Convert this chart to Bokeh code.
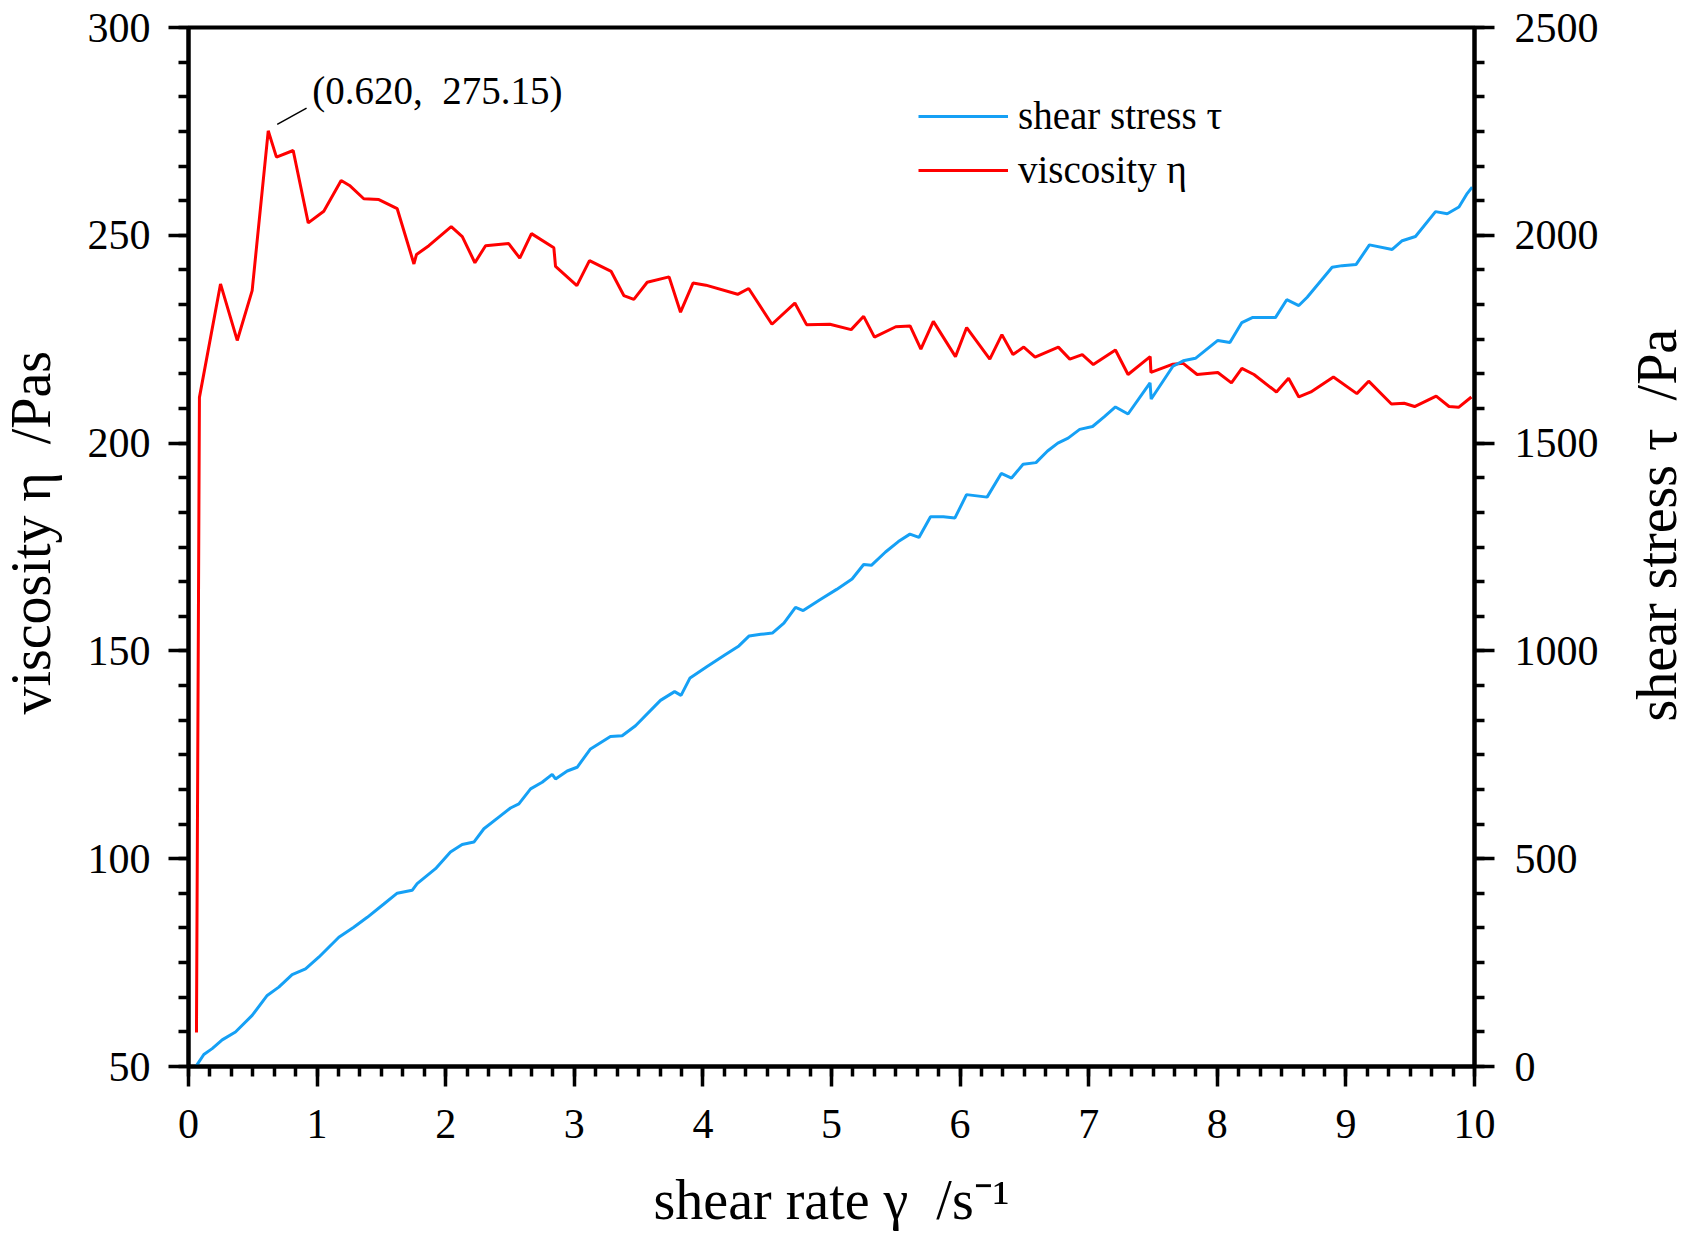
import math
import numpy as np
from bokeh.plotting import figure
from bokeh.layouts import row
from bokeh.core.properties import value
from bokeh.models import Range1d, LinearAxis, SingleIntervalTicker, Label, Legend, LegendItem
from bokeh.embed import file_html
from bokeh.resources import INLINE

# ---------------- data ----------------
rate_visc = [0.062, 0.085, 0.249, 0.379, 0.495, 0.620, 0.684, 0.814, 0.931, 1.052,
             1.187, 1.252, 1.363, 1.480, 1.623, 1.753, 1.773, 1.869, 2.043, 2.129,
             2.227, 2.310, 2.490, 2.576, 2.667, 2.841, 2.854, 3.020, 3.118, 3.287,
             3.385, 3.463, 3.567, 3.737, 3.826, 3.923, 4.023, 4.270, 4.356, 4.537,
             4.715, 4.806, 4.987, 5.153, 5.250, 5.334, 5.500, 5.611, 5.695, 5.792,
             5.964, 6.051, 6.231, 6.325, 6.411, 6.495, 6.583, 6.764, 6.853, 6.950,
             7.036, 7.208, 7.306, 7.478, 7.484, 7.655, 7.735, 7.843, 8.004, 8.110,
             8.191, 8.285, 8.460, 8.554, 8.634, 8.728, 8.903, 9.085, 9.177, 9.354,
             9.453, 9.534, 9.702, 9.802, 9.876, 9.976]
viscosity = [58.2, 211.0, 238.3, 224.7, 236.7, 275.15, 268.8, 270.4, 253.0, 255.8,
             263.2, 262.0, 258.8, 258.6, 256.4, 243.1, 245.4, 247.5, 252.1, 249.7,
             243.4, 247.5, 248.0, 244.5, 250.4, 247.0, 242.5, 237.9, 243.9, 241.3,
             235.5, 234.6, 238.7, 240.0, 231.5, 238.5, 238.0, 235.8, 237.2, 228.6,
             233.7, 228.5, 228.6, 227.3, 230.5, 225.5, 228.0, 228.2, 222.6, 229.3,
             220.8, 227.8, 220.2, 226.1, 221.3, 223.1, 220.7, 223.1, 220.2, 221.3,
             218.9, 222.4, 216.5, 220.8, 217.0, 219.0, 219.2, 216.5, 217.0, 214.5,
             218.0, 216.5, 212.3, 215.6, 211.1, 212.3, 215.9, 211.9, 214.9, 209.4,
             209.6, 208.8, 211.3, 208.8, 208.6, 211.1]

rate_tau = [0.062, 0.119, 0.184, 0.262, 0.365, 0.495, 0.612, 0.702, 0.806, 0.910,
            1.013, 1.169, 1.285, 1.390, 1.519, 1.623, 1.739, 1.778, 1.921, 2.037,
            2.128, 2.219, 2.297, 2.413, 2.504, 2.569, 2.660, 2.750, 2.828, 2.854,
            2.945, 3.022, 3.126, 3.281, 3.372, 3.476, 3.670, 3.780, 3.830, 3.900,
            4.030, 4.170, 4.280, 4.360, 4.450, 4.540, 4.630, 4.720, 4.780, 4.910,
            5.040, 5.160, 5.250, 5.310, 5.420, 5.520, 5.610, 5.680, 5.770, 5.870,
            5.960, 6.050, 6.210, 6.320, 6.400, 6.490, 6.590, 6.680, 6.760, 6.840,
            6.930, 7.030, 7.120, 7.208, 7.306, 7.477, 7.486, 7.655, 7.735, 7.830,
            8.004, 8.098, 8.191, 8.272, 8.452, 8.540, 8.634, 8.699, 8.893, 8.971,
            9.080, 9.183, 9.360, 9.438, 9.541, 9.697, 9.788, 9.879, 9.944, 9.982]
shear_stress = [2, 29, 43, 64, 83, 123, 171, 191, 221, 235,
                263, 311, 335, 359, 391, 417, 424, 440, 476, 516,
                534, 540, 572, 600, 622, 632, 668, 684, 703, 692,
                711, 720, 764, 794, 796, 820, 881, 902, 893, 935,
                962, 990, 1012, 1036, 1040, 1043, 1067, 1105, 1097, 1123,
                1148, 1173, 1208, 1206, 1238, 1263, 1281, 1273, 1323, 1323,
                1320, 1376, 1370, 1427, 1416, 1449, 1453, 1481, 1500, 1512,
                1533, 1540, 1563, 1587, 1570, 1645, 1606, 1685, 1698, 1704,
                1747, 1742, 1790, 1802, 1802, 1845, 1831, 1851, 1923, 1927,
                1930, 1977, 1966, 1987, 1997, 2057, 2052, 2068, 2101, 2116]

NB = "\u00a0"
x_label = "shear rate γ " + NB + "/s⁻¹"
y_label_left = "viscosity η " + NB + "/Pas"
y_label_right = "shear stress τ " + NB + "/Pa"
legend_labels = ["shear stress τ", "viscosity η"]

# ---------------- style ----------------
FONT = "Liberation Serif"
RED = "#FF0000"
BLUE = "#15A0F5"
FRAME_BOTTOM = 1066
H = FRAME_BOTTOM + 172
LEFT_W, MAIN_W, RIGHT_W = 70, 1540, 81
# measured shift of a rotated, centred text relative to its anchor
DX, DY = 20, 61


def title_strip(width, text, x_base, y_center_from_top):
    f = figure(width=width, height=H, output_backend="svg", toolbar_location=None,
               title=None, x_range=Range1d(0, width), y_range=Range1d(0, H),
               x_axis_type=None, y_axis_type=None, min_border=0,
               outline_line_color=None, background_fill_color="white",
               border_fill_color="white")
    f.xgrid.visible = False
    f.ygrid.visible = False
    f.text(x=[x_base - DX], y=[H - (y_center_from_top + DY)], text=[text], angle=math.pi / 2,
           text_align="center", text_baseline="alphabetic",
           text_font=value(FONT), text_font_size=value("56px"), text_color="black")
    return f


# ---------------- main figure ----------------
p = figure(width=MAIN_W, height=H, output_backend="svg", toolbar_location=None,
           x_range=Range1d(0, 10), y_range=Range1d(50, 300),
           min_border_left=188 - LEFT_W, min_border_right=LEFT_W + MAIN_W - 1474,
           min_border_top=27, min_border_bottom=H - FRAME_BOTTOM,
           background_fill_color="white", border_fill_color="white")
p.extra_y_ranges = {"tau": Range1d(0, 2500)}
p.xgrid.visible = False
p.ygrid.visible = False
p.outline_line_color = "black"
p.outline_line_width = 4

p.xaxis.ticker = SingleIntervalTicker(interval=1, num_minor_ticks=6)
p.yaxis.ticker = SingleIntervalTicker(interval=50, num_minor_ticks=6)
ax_r = LinearAxis(y_range_name="tau", ticker=SingleIntervalTicker(interval=500, num_minor_ticks=6))
p.add_layout(ax_r, "right")

ax_b, ax_l = p.xaxis[0], p.yaxis[0]
for ax in [ax_b, ax_l, ax_r]:
    ax.axis_line_width = 4
    ax.axis_line_color = "black"
    ax.major_tick_in = 0
    ax.minor_tick_in = 0
    ax.major_tick_out = 20
    ax.minor_tick_out = 10
    ax.major_tick_line_width = 3.5
    ax.minor_tick_line_width = 3.5
    ax.major_tick_line_color = "black"
    ax.minor_tick_line_color = "black"
    ax.major_label_text_font = FONT
    ax.major_label_text_font_size = "42px"
    ax.major_label_text_color = "black"
    ax.axis_label_text_font = FONT
    ax.axis_label_text_font_size = "56px"
    ax.axis_label_text_font_style = "normal"
    ax.axis_label_text_color = "black"
    ax.axis_label = None
ax_l.major_label_standoff = 18
ax_r.major_label_standoff = 20
ax_b.major_label_standoff = 23

ax_b.axis_label = x_label
ax_b.axis_label_standoff = 28

r_visc = p.line(rate_visc, viscosity, color=RED, line_width=3)
r_tau = p.line(rate_tau, shear_stress, color=BLUE, line_width=3, y_range_name="tau")

legend = Legend(items=[LegendItem(label=legend_labels[0], renderers=[r_tau]),
                       LegendItem(label=legend_labels[1], renderers=[r_visc])],
                location=(730, 874), orientation="vertical",
                glyph_width=90, glyph_height=40, label_height=40, label_standoff=10,
                spacing=9, padding=0, margin=0,
                border_line_color=None, background_fill_alpha=0,
                label_text_font=FONT, label_text_font_size="39px", label_text_color="black")
p.add_layout(legend)

# peak annotation
i_pk = int(np.argmax(viscosity))
px, py = rate_visc[i_pk], viscosity[i_pk]
p.segment(x0=[px + 0.07], y0=[py + 1.55], x1=[px + 0.298], y1=[py + 5.45],
          line_width=1.5, color="black")
p.add_layout(Label(x=px + 0.342, y=py + 9.8, text=f"({px:.3f}, {NB}{py:.2f})",
                   text_align="left", text_baseline="alphabetic",
                   text_font=FONT, text_font_size="39px", text_color="black"))

# side title strips (both titles read bottom-to-top)
left_strip = title_strip(LEFT_W, y_label_left, 50, 541)
right_strip = title_strip(RIGHT_W, y_label_right, 1676 - LEFT_W - MAIN_W, 532)

layout = row(left_strip, p, right_strip, spacing=0)
open("out.html", "w").write(file_html(layout, INLINE))
